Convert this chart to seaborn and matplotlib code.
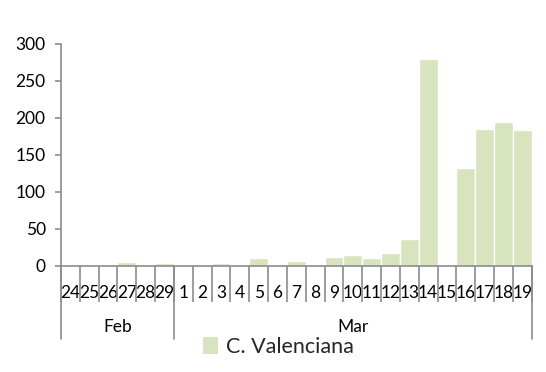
import matplotlib
matplotlib.use("Agg")
import matplotlib.pyplot as plt
import matplotlib.transforms as mtransforms
from matplotlib.patches import Patch
import numpy as np
import pandas as pd
import seaborn as sns

# data
feb_days = ["24", "25", "26", "27", "28", "29"]
mar_days = [str(d) for d in range(1, 20)]
feb_cases = [0, 0, 0, 5, 0, 4]
mar_cases = [0, 0, 3, 0, 10, 0, 6, 0, 12, 14, 10, 17, 36, 279, 0, 132, 185, 195, 184]
months = ["Feb", "Mar"]
series_name = "C. Valenciana"

bar_color = "#d7e4bd"
axis_grey = "#8c8c8c"

df = pd.DataFrame({
    "day": feb_days + mar_days,
    "cases": feb_cases + mar_cases,
})

sns.set_style("white")
plt.rcParams["font.family"] = ["Lato", "DejaVu Sans"]

fig = plt.figure(figsize=(5.46, 3.72), dpi=100)
ax = fig.add_axes([0.1117, 0.2858, 0.862, 0.596])

sns.barplot(data=df, x="day", y="cases", order=df["day"].tolist(),
            color=bar_color, saturation=1, width=1.0,
            edgecolor="white", linewidth=1.0, ax=ax)

n = len(df)
ax.set_xlim(-0.5, n - 0.5)
ax.set_ylim(0, 300)
ax.set_yticks(np.arange(0, 301, 50))
ax.set_xlabel("")
ax.set_ylabel("")

for side in ["top", "right"]:
    ax.spines[side].set_visible(False)
for side in ["left", "bottom"]:
    ax.spines[side].set_color(axis_grey)
    ax.spines[side].set_linewidth(1.2)

ax.tick_params(axis="y", which="major", left=True, direction="out", length=4,
               width=1.2, color=axis_grey, labelsize=12.5, labelcolor="black", pad=7)
ax.tick_params(axis="x", which="major", bottom=True, length=0, labelsize=12.5,
               labelcolor="black", pad=14)
ax.set_xticks(np.arange(-0.5, n, 1.0), minor=True)
ax.tick_params(axis="x", which="minor", bottom=True, direction="out", length=26,
               width=1.2, color=axis_grey)

# month group separators and labels
trans = mtransforms.blended_transform_factory(ax.transData, ax.transAxes)
bounds = [-0.5, len(feb_days) - 0.5, n - 0.5]
for b in bounds:
    ax.plot([b, b], [0, -0.33], transform=trans, color=axis_grey,
            lw=1.2, clip_on=False)
for i, m in enumerate(months):
    xc = (bounds[i] + bounds[i + 1]) / 2
    ax.text(xc, -0.277, m, transform=trans, ha="center", va="center",
            fontsize=12.5, color="black")

handle = Patch(facecolor=bar_color, edgecolor="none", label=series_name)
fig.legend(handles=[handle], loc="center", bbox_to_anchor=(0.51, 0.067),
           frameon=False, fontsize=15.5, handlelength=0.7, handleheight=0.8,
           handletextpad=0.4)

fig.savefig("out.png", dpi=100)
